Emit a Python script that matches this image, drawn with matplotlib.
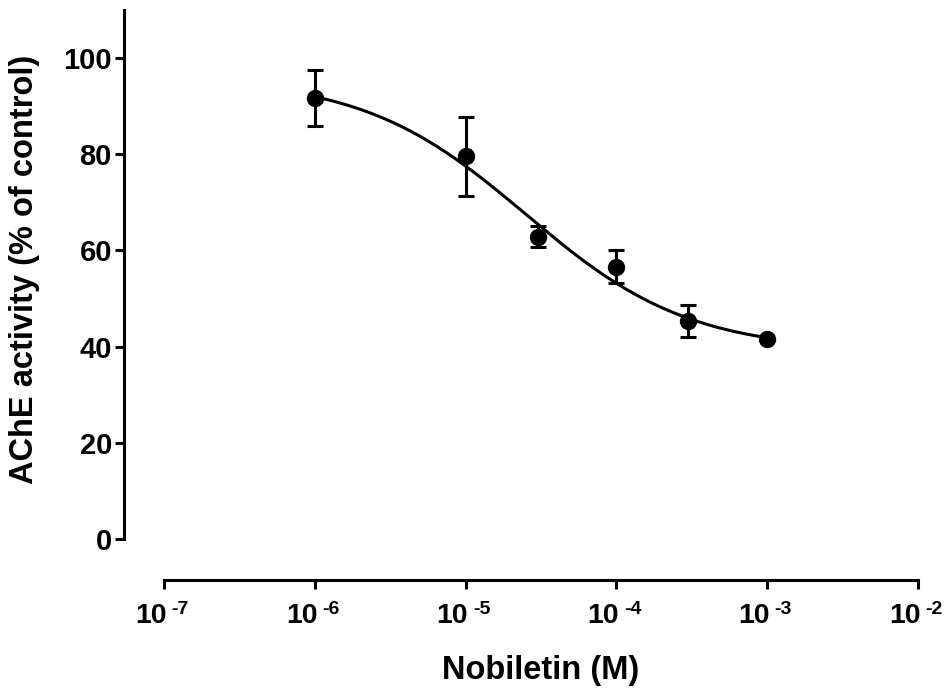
import numpy as np
import matplotlib
matplotlib.use("Agg")
import matplotlib.pyplot as plt
from matplotlib import transforms

plt.rcParams['font.family'] = ['Liberation Sans', 'DejaVu Sans']
plt.rcParams['font.weight'] = 'bold'

# data (mean +/- error)
conc = [1e-6, 1e-5, 3e-5, 1e-4, 3e-4, 1e-3]
activity = [91.7, 79.6, 62.9, 56.6, 45.3, 41.6]
err = [5.9, 8.2, 2.2, 3.4, 3.3, 0.0]

# fitted sigmoid parameters (top, bottom, logEC50, hill slope)
fit_top = 96.0
fit_bottom = 39.0
fit_logec50 = -4.6
fit_hill = 0.8

xticks = [1e-7, 1e-6, 1e-5, 1e-4, 1e-3, 1e-2]
xexponents = ['-7', '-6', '-5', '-4', '-3', '-2']
yticks = [0, 20, 40, 60, 80, 100]

W, H = 952, 693
fig = plt.figure(figsize=(W / 100, H / 100), dpi=100)
ax = fig.add_axes([164 / W, (H - 539) / H, (918 - 164) / W, (539 - 10) / H])

xfit = np.logspace(np.log10(conc[0]), np.log10(conc[-1]), 300)
yfit = fit_bottom + (fit_top - fit_bottom) / (1 + 10 ** ((np.log10(xfit) - fit_logec50) * fit_hill))
ax.plot(xfit, yfit, color='black', lw=2.2, zorder=2)

ax.errorbar(conc, activity, yerr=err, fmt='o', color='black', ms=11.5,
            elinewidth=2.2, capsize=6, capthick=2.2, zorder=3)

ax.set_xscale('log')
ax.set_xlim(1e-7, 1e-2)
ax.set_ylim(0, 110)
ax.minorticks_off()
ax.set_xticks(xticks)
ax.set_xticklabels([''] * len(xticks))
ax.set_yticks(yticks)

for s in ['top', 'right']:
    ax.spines[s].set_visible(False)
ax.spines['left'].set_position(('outward', 29))
ax.spines['bottom'].set_position(('outward', 29.5))
ax.spines['left'].set_linewidth(2.2)
ax.spines['bottom'].set_linewidth(2.2)

ax.tick_params(axis='y', length=6.5, width=2.2, labelsize=21, pad=2)
ax.tick_params(axis='x', length=6.5, width=2.2)

# x tick labels as "10" with a raised exponent
base = transforms.blended_transform_factory(ax.transData, fig.transFigure)
for xt, ex in zip(xticks, xexponents):
    ax.text(xt, (H - 603) / H, '10', fontsize=20.5, fontweight='bold', ha='right', va='top',
            transform=base + transforms.ScaledTranslation(0.025, 0, fig.dpi_scale_trans))
    ax.text(xt, (H - 601) / H, ex, fontsize=14, fontweight='bold', ha='left', va='top',
            transform=base + transforms.ScaledTranslation(0.075, 0, fig.dpi_scale_trans))

ax.set_xlabel('Nobiletin (M)', fontsize=23.5, fontweight='bold')
ax.xaxis.set_label_coords(0.5, (539 - 655) / 529)
ax.set_ylabel('AChE activity (% of control)', fontsize=23.5, fontweight='bold')
ax.yaxis.set_label_coords(-0.165, 0.51)

fig.savefig('out.png', dpi=100)
